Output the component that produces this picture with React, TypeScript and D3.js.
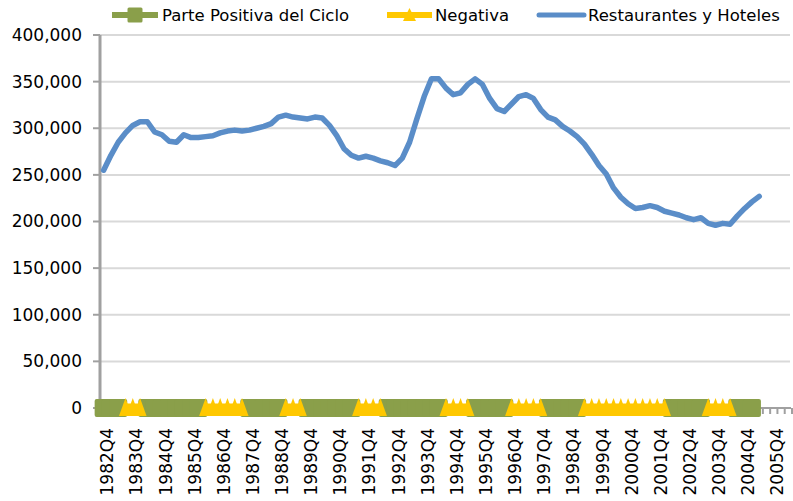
import React from "react";
import * as d3 from "d3";

// Quarterly categories start at 1982Q4
const firstYear = 1982;
const firstQuarter = 4;
const categoryCount = 95;

// Restaurantes y Hoteles (quarterly, 1982Q4 ...)
const restaurantesHoteles = [
  255000, 271000, 285000, 295000, 303000, 307000, 307000, 296000, 293000, 286000,
  285000, 293000, 290000, 290000, 291000, 292000, 295000, 297000, 298000, 297000,
  298000, 300000, 302000, 305000, 312000, 314000, 312000, 311000, 310000, 312000,
  311000, 303000, 292000, 278000, 271000, 268000, 270000, 268000, 265000, 263000,
  260000, 268000, 285000, 310000, 334000, 353000, 353000, 343000, 336000, 338000,
  347000, 353000, 347000, 332000, 321000, 318000, 326000, 334000, 336000, 332000,
  320000, 312000, 309000, 302000, 297000, 291000, 283000, 272000, 260000, 251000,
  236000, 226000, 219000, 214000, 215000, 217000, 215000, 211000, 209000, 207000,
  204000, 202000, 204000, 198000, 196000, 198000, 197000, 206000, 214000, 221000,
  227000,
];

// 1 = Parte Positiva del Ciclo, 0 = Negativa
const cicloPositivo = [
  1, 1, 1, 0, 0, 0, 1, 1, 1, 1,
  1, 1, 1, 1, 0, 0, 0, 0, 0, 0,
  1, 1, 1, 1, 1, 0, 0, 0, 1, 1,
  1, 1, 1, 1, 1, 0, 0, 0, 0, 1,
  1, 1, 1, 1, 1, 1, 1, 0, 0, 0,
  0, 1, 1, 1, 1, 1, 0, 0, 0, 0,
  0, 1, 1, 1, 1, 1, 0, 0, 0, 0,
  0, 0, 0, 0, 0, 0, 0, 0, 1, 1,
  1, 1, 1, 0, 0, 0, 0, 1, 1, 1,
];

const xTickLabels = [
  "1982Q4", "1983Q4", "1984Q4", "1985Q4", "1986Q4", "1987Q4", "1988Q4", "1989Q4",
  "1990Q4", "1991Q4", "1992Q4", "1993Q4", "1994Q4", "1995Q4", "1996Q4", "1997Q4",
  "1998Q4", "1999Q4", "2000Q4", "2001Q4", "2002Q4", "2003Q4", "2004Q4", "2005Q4",
];

const yTicks = [0, 50000, 100000, 150000, 200000, 250000, 300000, 350000, 400000];

const seriesNames = ["Parte Positiva del Ciclo", "Negativa", "Restaurantes y Hoteles"];

const GREEN = "#8A9F4A";
const YELLOW = "#FFC800";
const BLUE = "#5A8DC8";
const FONT = "DejaVu Sans, Verdana, sans-serif";

export default function App() {
  const W = 793;
  const H = 501;
  const categories = d3.range(categoryCount).map((i) => {
    const q = firstQuarter - 1 + i;
    return `${firstYear + Math.floor(q / 4)}Q${(q % 4) + 1}`;
  });
  const x = d3.scaleBand<string>().domain(categories).range([100, 792]).padding(0);
  const bw = x.bandwidth();
  const xc = (i: number) => (x(categories[i]) as number) + bw / 2;
  const y = d3.scaleLinear().domain([0, 400000]).range([408, 35]);

  const blueLine = d3
    .line<number>()
    .x((_, i) => xc(i))
    .y((v) => y(v))(restaurantesHoteles) as string;

  const posVals = cicloPositivo.map((c) => (c === 1 ? 0 : null));
  const negVals = cicloPositivo.map((c) => (c === 0 ? 0 : null));
  const segLine = d3
    .line<number | null>()
    .defined((v) => v !== null)
    .x((_, i) => xc(i))
    .y((v) => y(v as number));
  const greenPath = segLine(posVals) as string;
  const yellowPath = segLine(negVals) as string;

  const sq = 18;
  const triW = 13;
  const triTop = 398;
  const triBot = 416;

  return (
    <svg
      width={W}
      height={H}
      style={{ position: "absolute", left: 0, top: 0, background: "#fff" }}
      fontFamily={FONT}
    >
      {/* gridlines */}
      {yTicks.slice(1).map((t) => (
        <line key={"g" + t} x1={100} x2={790} y1={y(t)} y2={y(t)} stroke="#D9D9D9" strokeWidth={2} />
      ))}
      {/* y axis */}
      <line x1={100} x2={100} y1={y(400000)} y2={y(0) + 2} stroke="#A0A0A0" strokeWidth={3} />
      {yTicks.map((t) => (
        <g key={"y" + t}>
          <line x1={93} x2={100} y1={y(t)} y2={y(t)} stroke="#A0A0A0" strokeWidth={2} />
          <text x={82} y={y(t)} dy="0.35em" textAnchor="end" fontSize={17} fill="#000">
            {d3.format(",")(t)}
          </text>
        </g>
      ))}
      {/* x axis */}
      <line x1={100} x2={791} y1={y(0)} y2={y(0)} stroke="#A0A0A0" strokeWidth={2} />
      {categories.map((c, i) => (
        <line
          key={"xt" + i}
          x1={(x(c) as number) + bw}
          x2={(x(c) as number) + bw}
          y1={y(0)}
          y2={y(0) + 6}
          stroke="#A0A0A0"
          strokeWidth={2}
        />
      ))}
      {xTickLabels.map((lab, k) => {
        const lx = (x(categories[4 * k]) as number) + bw;
        return (
          <text
            key={"xl" + lab}
            transform={`translate(${lx},428) rotate(-90)`}
            textAnchor="end"
            dy="0.35em"
            fontSize={17}
            fill="#000"
          >
            {lab}
          </text>
        );
      })}

      {/* Parte Positiva del Ciclo */}
      <path d={greenPath} fill="none" stroke={GREEN} strokeWidth={10} />
      {posVals.map((v, i) =>
        v === null ? null : (
          <rect
            key={"p" + i}
            x={xc(i) - sq / 2}
            y={y(v) - sq / 2}
            width={sq}
            height={sq}
            rx={2}
            fill={GREEN}
          />
        )
      )}
      {/* Negativa */}
      <path d={yellowPath} fill="none" stroke={YELLOW} strokeWidth={9} />
      {negVals.map((v, i) =>
        v === null ? null : (
          <path
            key={"n" + i}
            d={`M${xc(i) - triW / 2},${triBot} L${xc(i)},${triTop} L${xc(i) + triW / 2},${triBot} Z`}
            fill={YELLOW}
          />
        )
      )}
      {/* Restaurantes y Hoteles */}
      <path d={blueLine} fill="none" stroke={BLUE} strokeWidth={5.5} strokeLinejoin="round" strokeLinecap="round" />

      {/* legend */}
      <g fontSize={16.5} fill="#000">
        <line x1={112} x2={158} y1={15} y2={15} stroke={GREEN} strokeWidth={6} />
        <rect x={135 - 7.5} y={15 - 7.5} width={15} height={15} rx={1.5} fill={GREEN} />
        <text x={162} y={15} dy="0.35em">{seriesNames[0]}</text>

        <line x1={387} x2={432} y1={15} y2={15} stroke={YELLOW} strokeWidth={6} />
        <path d="M403,21 L409.5,8 L416,21 Z" fill={YELLOW} />
        <text x={435} y={15} dy="0.35em">{seriesNames[1]}</text>

        <line x1={539} x2={584} y1={15} y2={15} stroke={BLUE} strokeWidth={5} strokeLinecap="round" />
        <text x={588} y={15} dy="0.35em">{seriesNames[2]}</text>
      </g>
    </svg>
  );
}
